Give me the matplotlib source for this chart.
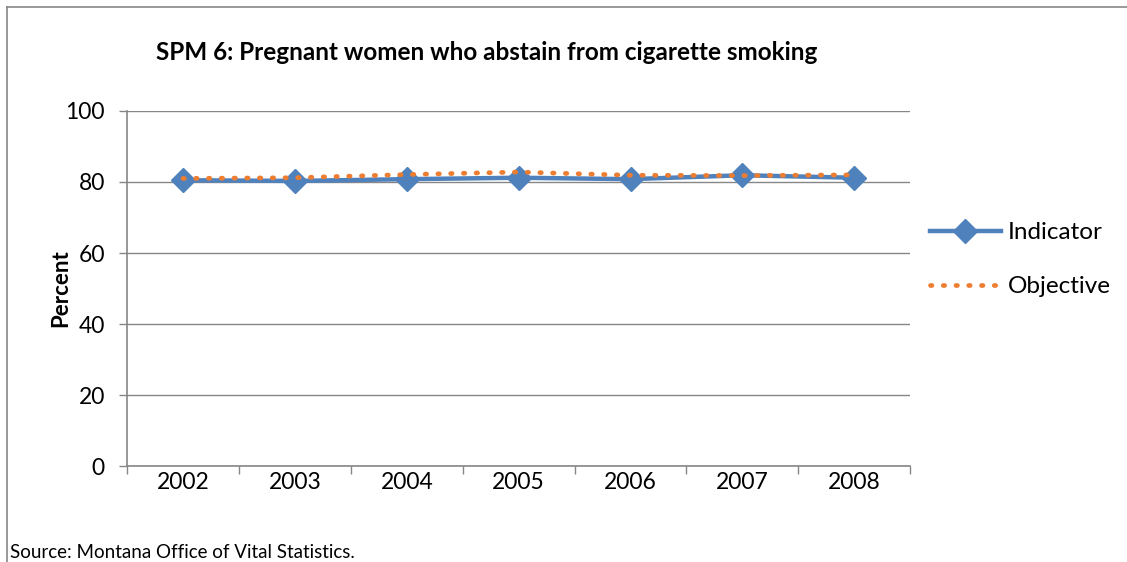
import numpy as np
import matplotlib.pyplot as plt
from matplotlib.lines import Line2D

# values
years = ['2002', '2003', '2004', '2005', '2006', '2007', '2008']
indicator = [80.5, 80.3, 80.8, 81.2, 80.8, 81.9, 81.2]
objective = [81.0, 81.2, 82.1, 82.8, 81.9, 81.8, 82.0]
y_ticks = [0, 20, 40, 60, 80, 100]

plt.rcParams['font.family'] = ['Lato', 'DejaVu Sans']

fig = plt.figure(figsize=(11.27, 5.62), dpi=100)
ax = fig.add_axes([0.1127, 0.1708, 0.695, 0.6317])

x = np.arange(len(years))
grey = '#868686'
dots = (0, (0.3, 2.4))

ax.plot(x, indicator, color='#4F81BD', lw=3.2, marker='D', markersize=12,
        label='Indicator', zorder=3)
ax.plot(x, objective, color='#ED7D31', lw=3.4, linestyle=dots,
        dash_capstyle='round', label='Objective', zorder=4)

ax.set_xlim(-0.5, len(years) - 0.5)
ax.set_ylim(0, 100)
ax.set_yticks(y_ticks)
ax.yaxis.grid(True, color=grey, lw=1)
ax.set_axisbelow(True)

# tick marks between categories, labels at centres
ax.set_xticks(np.arange(-0.5, len(years), 1.0))
ax.set_xticklabels([])
ax.set_xticks(x, minor=True)
ax.set_xticklabels(years, minor=True)
ax.tick_params(axis='x', which='major', length=6, color=grey, width=1)
ax.tick_params(axis='x', which='minor', length=0, pad=4, labelsize=16.5)
ax.tick_params(axis='y', length=6, color=grey, width=1, labelsize=16.5, pad=10)

for s in ['top', 'right']:
    ax.spines[s].set_visible(False)
for s in ['left', 'bottom']:
    ax.spines[s].set_color(grey)
    ax.spines[s].set_linewidth(1.2)

ax.set_ylabel('Percent', fontsize=16, fontweight='bold', labelpad=-4)
fig.text(0.432, 0.907, 'SPM 6: Pregnant women who abstain from cigarette smoking',
         ha='center', va='center', fontsize=17.5, fontweight='bold')

handles = [Line2D([], [], color='#4F81BD', lw=3.2, marker='D', markersize=12),
           Line2D([], [], color='#ED7D31', lw=3.4, linestyle=dots,
                  dash_capstyle='round')]
fig.legend(handles, ['Indicator', 'Objective'], loc='center left',
           bbox_to_anchor=(0.806, 0.538), frameon=False, fontsize=17.5,
           handlelength=2.9, handletextpad=0.3, labelspacing=1.35)

fig.text(0.009, 0.008, 'Source: Montana Office of Vital Statistics.', fontsize=13.5)

# grey frame on top and left
fig.add_artist(Line2D([7 / 1127, 1], [1 - 7 / 562, 1 - 7 / 562],
                      transform=fig.transFigure, color=grey, lw=1.2))
fig.add_artist(Line2D([7 / 1127, 7 / 1127], [0, 1 - 7 / 562],
                      transform=fig.transFigure, color=grey, lw=1.2))

fig.savefig('out.png', dpi=100)
